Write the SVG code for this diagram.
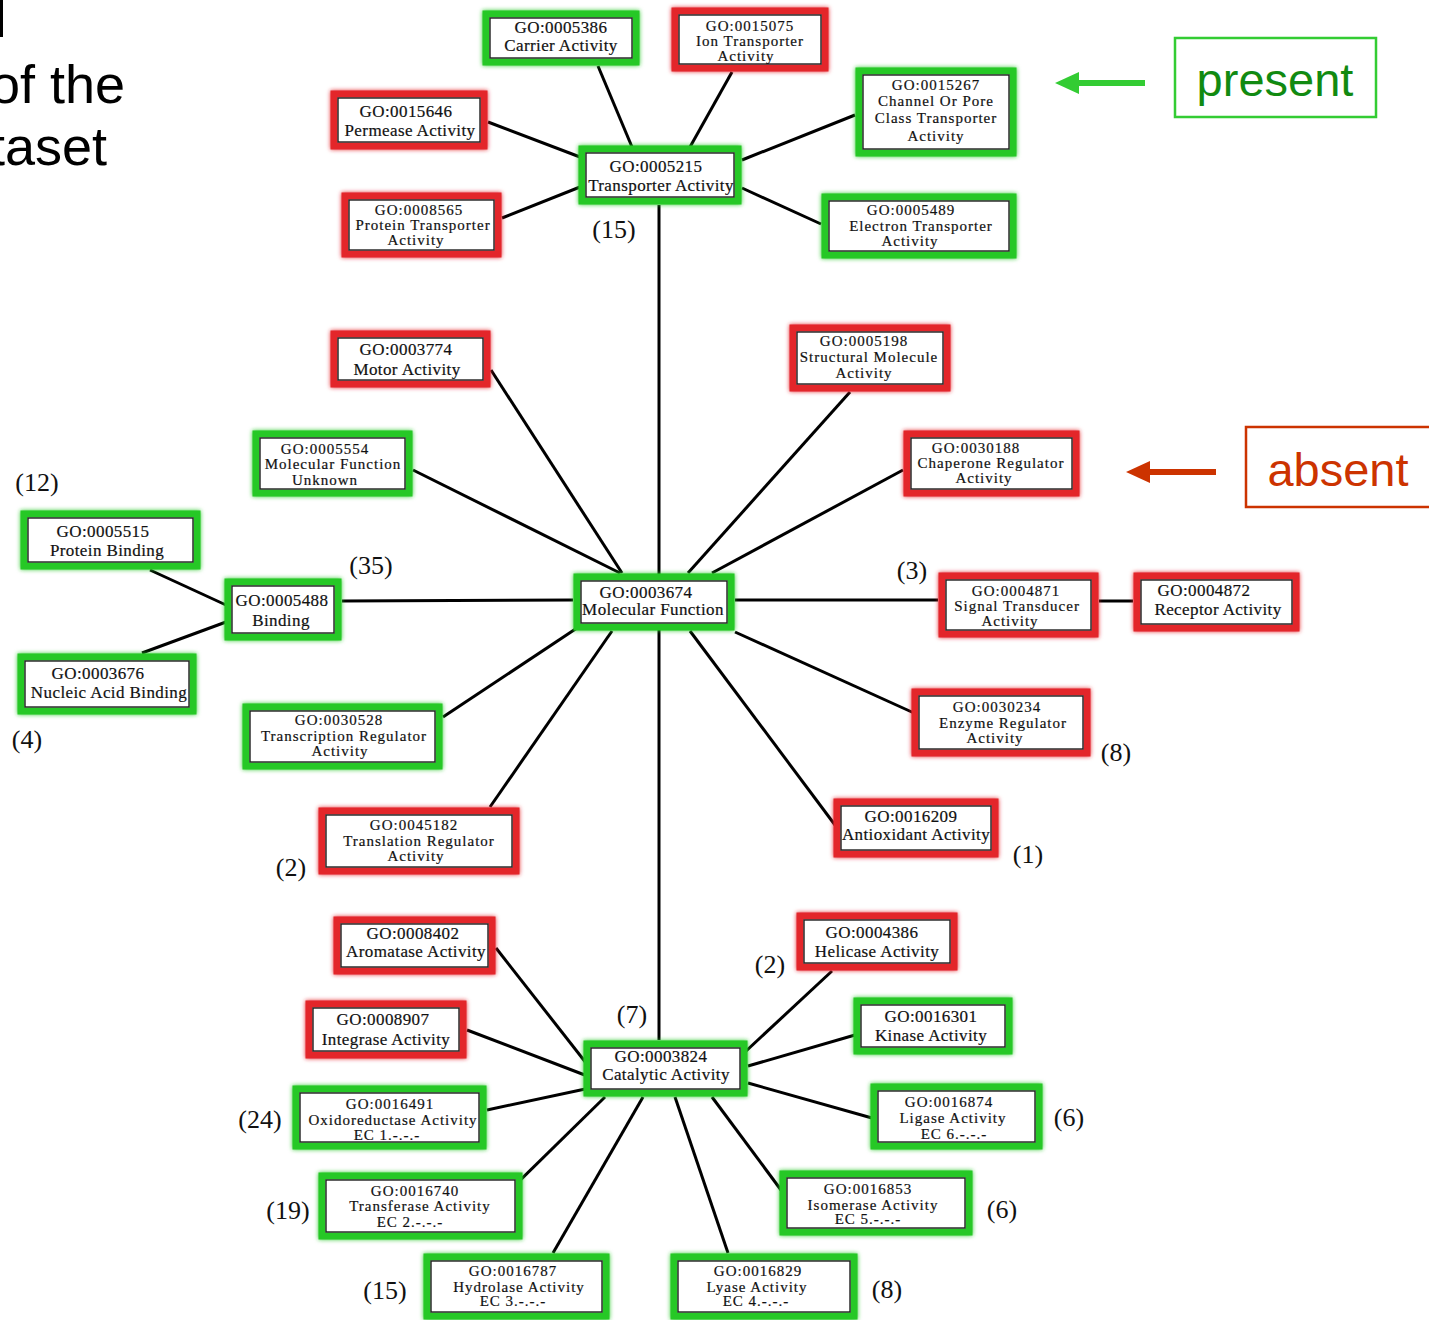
<svg xmlns="http://www.w3.org/2000/svg" width="1429" height="1320" viewBox="0 0 1429 1320">
<defs>
<style>
.g{fill:#fff;stroke:#27c827;stroke-width:7}
.r{fill:#fff;stroke:#e3262c;stroke-width:7}
.in{fill:#fff;stroke:#1e1e1e;stroke-width:1.4}
.t{font-family:"Liberation Serif","DejaVu Serif",serif;font-size:15px;letter-spacing:1px;text-anchor:middle;fill:#111;stroke:#111;stroke-width:0.2}
.t2{font-family:"Liberation Serif","DejaVu Serif",serif;font-size:17px;letter-spacing:0.4px;text-anchor:middle;fill:#111;stroke:#111;stroke-width:0.2}
.c{font-family:"Liberation Serif","DejaVu Serif",serif;font-size:26px;text-anchor:middle;fill:#111}
.e{stroke:#000;stroke-width:3;fill:none}
.h{font-family:"Liberation Sans",Arial,sans-serif;font-size:54px;fill:#000}
</style>
<filter id="glow" x="-10%" y="-20%" width="120%" height="140%"><feGaussianBlur stdDeviation="2.2" result="b"/><feMerge><feMergeNode in="b"/><feMergeNode in="SourceGraphic"/></feMerge></filter>
</defs>
<rect width="1429" height="1320" fill="#fff"/>
<rect x="0" y="0" width="3" height="37" fill="#000"/>
<text class="h" x="-10" y="103">of the</text>
<text class="h" x="-10" y="165">taset</text>

<g id="connectors">
<line class="e" x1="659" y1="205" x2="659" y2="1040"/>
<line class="e" x1="632" y1="147" x2="598" y2="66"/>
<line class="e" x1="690" y1="147" x2="732" y2="72"/>
<line class="e" x1="742" y1="160" x2="855" y2="115"/>
<line class="e" x1="488" y1="122" x2="580" y2="157"/>
<line class="e" x1="502" y1="218" x2="580" y2="187"/>
<line class="e" x1="742" y1="188" x2="821" y2="224"/>
<line class="e" x1="491" y1="370" x2="622" y2="573"/>
<line class="e" x1="413" y1="470" x2="620" y2="573"/>
<line class="e" x1="850" y1="392" x2="688" y2="573"/>
<line class="e" x1="903" y1="470" x2="712" y2="573"/>
<line class="e" x1="342" y1="601" x2="573" y2="600"/>
<line class="e" x1="735" y1="600" x2="938" y2="600"/>
<line class="e" x1="1099" y1="601" x2="1133" y2="601"/>
<line class="e" x1="443" y1="717" x2="577" y2="628"/>
<line class="e" x1="490" y1="807" x2="612" y2="631"/>
<line class="e" x1="735" y1="632" x2="914" y2="713"/>
<line class="e" x1="690" y1="631" x2="835" y2="825"/>
<line class="e" x1="150" y1="570" x2="226" y2="605"/>
<line class="e" x1="142" y1="653" x2="226" y2="622"/>
<line class="e" x1="496" y1="948" x2="590" y2="1068"/>
<line class="e" x1="467" y1="1030" x2="590" y2="1077"/>
<line class="e" x1="487" y1="1110" x2="590" y2="1088"/>
<line class="e" x1="505" y1="1195" x2="605" y2="1097"/>
<line class="e" x1="643" y1="1097" x2="553" y2="1253"/>
<line class="e" x1="675" y1="1097" x2="728" y2="1253"/>
<line class="e" x1="712" y1="1097" x2="781" y2="1190"/>
<line class="e" x1="748" y1="1083" x2="872" y2="1118"/>
<line class="e" x1="748" y1="1066" x2="855" y2="1035"/>
<line class="e" x1="745" y1="1052" x2="832" y2="971"/>
</g>

<g id="n0005386"><rect class="g" filter="url(#glow)" x="486" y="14" width="150" height="48"/><rect class="in" x="490" y="18" width="142" height="40"/><text class="t2" x="561" y="33">GO:0005386</text><text class="t2" x="561" y="51">Carrier Activity</text></g>
<g id="n0015075"><rect class="r" filter="url(#glow)" x="675" y="11" width="150" height="57"/><rect class="in" x="679" y="15" width="142" height="49"/><text class="t" x="750" y="31">GO:0015075</text><text class="t" x="750" y="46">Ion Transporter</text><text class="t" x="746" y="61">Activity</text></g>
<g id="n0015267"><rect class="g" filter="url(#glow)" x="859" y="71" width="154" height="82"/><rect class="in" x="863" y="75" width="146" height="74"/><text class="t" x="936" y="90">GO:0015267</text><text class="t" x="936" y="106">Channel Or Pore</text><text class="t" x="936" y="123">Class Transporter</text><text class="t" x="936" y="141">Activity</text></g>
<g id="n0015646"><rect class="r" filter="url(#glow)" x="334" y="94" width="150" height="52"/><rect class="in" x="338" y="98" width="142" height="44"/><text class="t2" x="406" y="117">GO:0015646</text><text class="t2" x="410" y="136">Permease Activity</text></g>
<g id="n0005215"><rect class="g" filter="url(#glow)" x="582" y="149" width="156" height="52"/><rect class="in" x="586" y="153" width="148" height="44"/><text class="t2" x="656" y="172">GO:0005215</text><text class="t2" x="661" y="191">Transporter Activity</text></g>
<g id="n0008565"><rect class="r" filter="url(#glow)" x="345" y="196" width="153" height="58"/><rect class="in" x="349" y="200" width="145" height="50"/><text class="t" x="419" y="215">GO:0008565</text><text class="t" x="423" y="230">Protein Transporter</text><text class="t" x="416" y="245">Activity</text></g>
<g id="n0005489"><rect class="g" filter="url(#glow)" x="825" y="197" width="188" height="58"/><rect class="in" x="829" y="201" width="180" height="50"/><text class="t" x="911" y="215">GO:0005489</text><text class="t" x="921" y="231">Electron Transporter</text><text class="t" x="910" y="246">Activity</text></g>
<g id="n0003774"><rect class="r" filter="url(#glow)" x="334" y="334" width="153" height="50"/><rect class="in" x="338" y="338" width="145" height="42"/><text class="t2" x="406" y="355">GO:0003774</text><text class="t2" x="407" y="375">Motor Activity</text></g>
<g id="n0005198"><rect class="r" filter="url(#glow)" x="793" y="328" width="154" height="60"/><rect class="in" x="797" y="332" width="146" height="52"/><text class="t" x="864" y="346">GO:0005198</text><text class="t" x="869" y="362">Structural Molecule</text><text class="t" x="864" y="378">Activity</text></g>
<g id="n0005554"><rect class="g" filter="url(#glow)" x="256" y="434" width="153" height="59"/><rect class="in" x="260" y="438" width="145" height="51"/><text class="t" x="325" y="454">GO:0005554</text><text class="t" x="333" y="469">Molecular Function</text><text class="t" x="325" y="485">Unknown</text></g>
<g id="n0030188"><rect class="r" filter="url(#glow)" x="907" y="434" width="169" height="59"/><rect class="in" x="911" y="438" width="161" height="51"/><text class="t" x="976" y="453">GO:0030188</text><text class="t" x="991" y="468">Chaperone Regulator</text><text class="t" x="984" y="483">Activity</text></g>
<g id="n0005515"><rect class="g" filter="url(#glow)" x="24" y="514" width="173" height="52"/><rect class="in" x="28" y="518" width="165" height="44"/><text class="t2" x="103" y="537">GO:0005515</text><text class="t2" x="107" y="556">Protein Binding</text></g>
<g id="n0005488"><rect class="g" filter="url(#glow)" x="228" y="582" width="110" height="55"/><rect class="in" x="232" y="586" width="102" height="47"/><text class="t2" x="282" y="606">GO:0005488</text><text class="t2" x="281" y="626">Binding</text></g>
<g id="n0003674"><rect class="g" filter="url(#glow)" x="577" y="577" width="154" height="50"/><rect class="in" x="581" y="581" width="146" height="42"/><text class="t2" x="646" y="598">GO:0003674</text><text class="t2" x="653" y="615">Molecular Function</text></g>
<g id="n0004871"><rect class="r" filter="url(#glow)" x="942" y="576" width="153" height="58"/><rect class="in" x="946" y="580" width="145" height="50"/><text class="t" x="1016" y="596">GO:0004871</text><text class="t" x="1017" y="611">Signal Transducer</text><text class="t" x="1010" y="626">Activity</text></g>
<g id="n0004872"><rect class="r" filter="url(#glow)" x="1137" y="576" width="159" height="52"/><rect class="in" x="1141" y="580" width="151" height="44"/><text class="t2" x="1204" y="596">GO:0004872</text><text class="t2" x="1218" y="615">Receptor Activity</text></g>
<g id="n0003676"><rect class="g" filter="url(#glow)" x="21" y="657" width="172" height="54"/><rect class="in" x="25" y="661" width="164" height="46"/><text class="t2" x="98" y="679">GO:0003676</text><text class="t2" x="109" y="698">Nucleic Acid Binding</text></g>
<g id="n0030528"><rect class="g" filter="url(#glow)" x="246" y="707" width="193" height="59"/><rect class="in" x="250" y="711" width="185" height="51"/><text class="t" x="339" y="725">GO:0030528</text><text class="t" x="344" y="741">Transcription Regulator</text><text class="t" x="340" y="756">Activity</text></g>
<g id="n0030234"><rect class="r" filter="url(#glow)" x="915" y="692" width="172" height="61"/><rect class="in" x="919" y="696" width="164" height="53"/><text class="t" x="997" y="712">GO:0030234</text><text class="t" x="1003" y="728">Enzyme Regulator</text><text class="t" x="995" y="743">Activity</text></g>
<g id="n0045182"><rect class="r" filter="url(#glow)" x="322" y="811" width="194" height="60"/><rect class="in" x="326" y="815" width="186" height="52"/><text class="t" x="414" y="830">GO:0045182</text><text class="t" x="419" y="846">Translation Regulator</text><text class="t" x="416" y="861">Activity</text></g>
<g id="n0016209"><rect class="r" filter="url(#glow)" x="837" y="802" width="158" height="52"/><rect class="in" x="841" y="806" width="150" height="44"/><text class="t2" x="911" y="822">GO:0016209</text><text class="t2" x="916" y="840">Antioxidant Activity</text></g>
<g id="n0008402"><rect class="r" filter="url(#glow)" x="337" y="920" width="155" height="51"/><rect class="in" x="341" y="924" width="147" height="43"/><text class="t2" x="413" y="939">GO:0008402</text><text class="t2" x="416" y="957">Aromatase Activity</text></g>
<g id="n0004386"><rect class="r" filter="url(#glow)" x="800" y="916" width="154" height="51"/><rect class="in" x="804" y="920" width="146" height="43"/><text class="t2" x="872" y="938">GO:0004386</text><text class="t2" x="877" y="957">Helicase Activity</text></g>
<g id="n0008907"><rect class="r" filter="url(#glow)" x="309" y="1004" width="154" height="51"/><rect class="in" x="313" y="1008" width="146" height="43"/><text class="t2" x="383" y="1025">GO:0008907</text><text class="t2" x="386" y="1045">Integrase Activity</text></g>
<g id="n0016301"><rect class="g" filter="url(#glow)" x="857" y="1001" width="152" height="50"/><rect class="in" x="861" y="1005" width="144" height="42"/><text class="t2" x="931" y="1022">GO:0016301</text><text class="t2" x="931" y="1041">Kinase Activity</text></g>
<g id="n0003824"><rect class="g" filter="url(#glow)" x="587" y="1044" width="157" height="49"/><rect class="in" x="591" y="1048" width="149" height="41"/><text class="t2" x="661" y="1062">GO:0003824</text><text class="t2" x="666" y="1080">Catalytic Activity</text></g>
<g id="n0016491"><rect class="g" filter="url(#glow)" x="296" y="1089" width="187" height="57"/><rect class="in" x="300" y="1093" width="179" height="49"/><text class="t" x="390" y="1109">GO:0016491</text><text class="t" x="393" y="1125">Oxidoreductase Activity</text><text class="t" x="387" y="1140">EC 1.-.-.-</text></g>
<g id="n0016874"><rect class="g" filter="url(#glow)" x="874" y="1087" width="165" height="59"/><rect class="in" x="878" y="1091" width="157" height="51"/><text class="t" x="949" y="1107">GO:0016874</text><text class="t" x="953" y="1123">Ligase Activity</text><text class="t" x="954" y="1139">EC 6.-.-.-</text></g>
<g id="n0016740"><rect class="g" filter="url(#glow)" x="322" y="1176" width="197" height="60"/><rect class="in" x="326" y="1180" width="189" height="52"/><text class="t" x="415" y="1196">GO:0016740</text><text class="t" x="420" y="1211">Transferase Activity</text><text class="t" x="410" y="1227">EC 2.-.-.-</text></g>
<g id="n0016853"><rect class="g" filter="url(#glow)" x="783" y="1174" width="186" height="58"/><rect class="in" x="787" y="1178" width="178" height="50"/><text class="t" x="868" y="1194">GO:0016853</text><text class="t" x="873" y="1210">Isomerase Activity</text><text class="t" x="868" y="1224">EC 5.-.-.-</text></g>
<g id="n0016787"><rect class="g" filter="url(#glow)" x="427" y="1257" width="179" height="59"/><rect class="in" x="431" y="1261" width="171" height="51"/><text class="t" x="513" y="1276">GO:0016787</text><text class="t" x="519" y="1292">Hydrolase Activity</text><text class="t" x="513" y="1306">EC 3.-.-.-</text></g>
<g id="n0016829"><rect class="g" filter="url(#glow)" x="674" y="1257" width="180" height="59"/><rect class="in" x="678" y="1261" width="172" height="51"/><text class="t" x="758" y="1276">GO:0016829</text><text class="t" x="757" y="1292">Lyase Activity</text><text class="t" x="756" y="1306">EC 4.-.-.-</text></g>

<g id="counts">
<text class="c" x="614" y="238">(15)</text>
<text class="c" x="37" y="491">(12)</text>
<text class="c" x="371" y="574">(35)</text>
<text class="c" x="912" y="579">(3)</text>
<text class="c" x="27" y="748">(4)</text>
<text class="c" x="1116" y="761">(8)</text>
<text class="c" x="1028" y="863">(1)</text>
<text class="c" x="291" y="876">(2)</text>
<text class="c" x="770" y="973">(2)</text>
<text class="c" x="632" y="1023">(7)</text>
<text class="c" x="260" y="1128">(24)</text>
<text class="c" x="1069" y="1126">(6)</text>
<text class="c" x="288" y="1219">(19)</text>
<text class="c" x="1002" y="1218">(6)</text>
<text class="c" x="385" y="1299">(15)</text>
<text class="c" x="887" y="1298">(8)</text>
</g>

<g id="legend-present">
<rect x="1175" y="38" width="201" height="79" fill="#fff" stroke="#33cc33" stroke-width="2.5"/>
<text x="1275" y="96" font-family="Liberation Sans, Arial, sans-serif" font-size="47" text-anchor="middle" fill="#118a11">present</text>
<line x1="1145" y1="83" x2="1075" y2="83" stroke="#33cc33" stroke-width="6"/>
<polygon points="1055,83 1079,72 1079,94" fill="#33cc33"/>
</g>
<g id="legend-absent">
<rect x="1246" y="427" width="200" height="80" fill="#fff" stroke="#cc3300" stroke-width="2.5"/>
<text x="1338" y="486" font-family="Liberation Sans, Arial, sans-serif" font-size="47" text-anchor="middle" fill="#cc3300">absent</text>
<line x1="1216" y1="472" x2="1146" y2="472" stroke="#cc3300" stroke-width="6"/>
<polygon points="1126,472 1150,461 1150,483" fill="#cc3300"/>
</g>
</svg>
